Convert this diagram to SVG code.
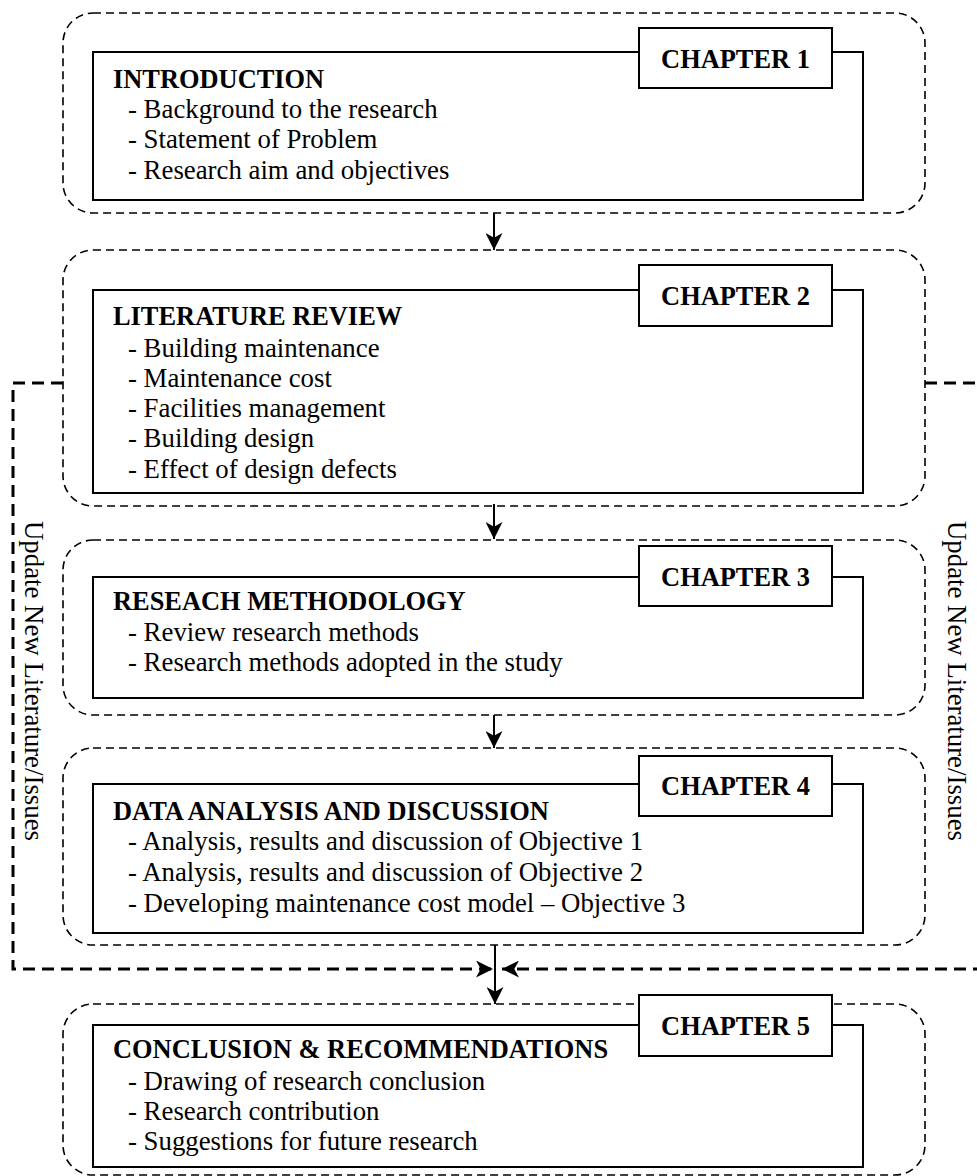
<svg xmlns="http://www.w3.org/2000/svg" width="977" height="1176" viewBox="0 0 977 1176">
<style>
.outer{fill:none;stroke:#000;stroke-width:1.6;stroke-dasharray:8 5}
.inner{fill:#fff;stroke:#000;stroke-width:2}
.lbl{fill:#fff;stroke:#000;stroke-width:2}
.t{font-family:"Liberation Serif","Times New Roman",serif;font-size:26.8px;fill:#000}
.b{font-weight:bold;font-size:26.4px}
.c{text-anchor:middle}
.arr{fill:none;stroke:#000;stroke-width:2}
.fb{fill:none;stroke:#000;stroke-width:3;stroke-dasharray:12 7}
</style>
<defs>
<marker id="ah" viewBox="0 0 18 18" refX="18" refY="9" markerWidth="17" markerHeight="17" markerUnits="userSpaceOnUse" orient="auto">
<path d="M0,0 L18,9 L0,18 L5,9 z" fill="#000"/>
</marker>
</defs>

<g id="connectors">
<path class="arr" d="M494,213 V250" marker-end="url(#ah)"/>
<path class="arr" d="M494,504 V539" marker-end="url(#ah)"/>
<path class="arr" d="M494,715 V748" marker-end="url(#ah)"/>
<path class="arr" d="M495,945 V1004" marker-end="url(#ah)"/>
<path class="fb" d="M63,383 H13 V969 H493" marker-end="url(#ah)"/>
<path class="fb" d="M925,383 H985 V969 H502" marker-end="url(#ah)"/>
<text class="t" transform="translate(25,521) rotate(90)">Update New Literature/Issues</text>
<text class="t" transform="translate(948,521) rotate(90)">Update New Literature/Issues</text>
</g>

<g id="chapter1">
<rect class="outer" x="63" y="13" width="862" height="200" rx="30"/>
<rect class="inner" x="93" y="52" width="770" height="148"/>
<rect class="lbl" x="639" y="28" width="193" height="60"/>
<text class="t b c" x="735.5" y="68">CHAPTER 1</text>
<text class="t b" x="113" y="88">INTRODUCTION</text>
<text class="t" x="128" y="118">- Background to the research</text>
<text class="t" x="128" y="148">- Statement of Problem</text>
<text class="t" x="128" y="179">- Research aim and objectives</text>
</g>

<g id="chapter2">
<rect class="outer" x="63" y="250" width="862" height="256" rx="30"/>
<rect class="inner" x="93" y="290" width="770" height="203"/>
<rect class="lbl" x="639" y="265" width="193" height="61"/>
<text class="t b c" x="735.5" y="305">CHAPTER 2</text>
<text class="t b" x="113" y="325">LITERATURE REVIEW</text>
<text class="t" x="128" y="357">- Building maintenance</text>
<text class="t" x="128" y="387">- Maintenance cost</text>
<text class="t" x="128" y="417">- Facilities management</text>
<text class="t" x="128" y="447">- Building design</text>
<text class="t" x="128" y="478">- Effect of design defects</text>
</g>

<g id="chapter3">
<rect class="outer" x="63" y="540" width="862" height="175" rx="30"/>
<rect class="inner" x="93" y="577" width="770" height="121"/>
<rect class="lbl" x="639" y="546" width="193" height="60"/>
<text class="t b c" x="735.5" y="586">CHAPTER 3</text>
<text class="t b" x="113" y="610">RESEACH METHODOLOGY</text>
<text class="t" x="128" y="641">- Review research methods</text>
<text class="t" x="128" y="671">- Research methods adopted in the study</text>
</g>

<g id="chapter4">
<rect class="outer" x="63" y="748" width="862" height="197" rx="30"/>
<rect class="inner" x="93" y="784" width="770" height="149"/>
<rect class="lbl" x="639" y="756" width="193" height="60"/>
<text class="t b c" x="735.5" y="795">CHAPTER 4</text>
<text class="t b" x="113" y="820">DATA ANALYSIS AND DISCUSSION</text>
<text class="t" x="128" y="850">- Analysis, results and discussion of Objective 1</text>
<text class="t" x="128" y="881">- Analysis, results and discussion of Objective 2</text>
<text class="t" x="128" y="912">- Developing maintenance cost model – Objective 3</text>
</g>

<g id="chapter5">
<rect class="outer" x="63" y="1004" width="862" height="171" rx="30"/>
<rect class="inner" x="93" y="1025" width="770" height="142"/>
<rect class="lbl" x="639" y="995" width="193" height="61"/>
<text class="t b c" x="735.5" y="1035">CHAPTER 5</text>
<text class="t b" x="113" y="1058">CONCLUSION &amp; RECOMMENDATIONS</text>
<text class="t" x="128" y="1090">- Drawing of research conclusion</text>
<text class="t" x="128" y="1120">- Research contribution</text>
<text class="t" x="128" y="1150">- Suggestions for future research</text>
</g>
</svg>
